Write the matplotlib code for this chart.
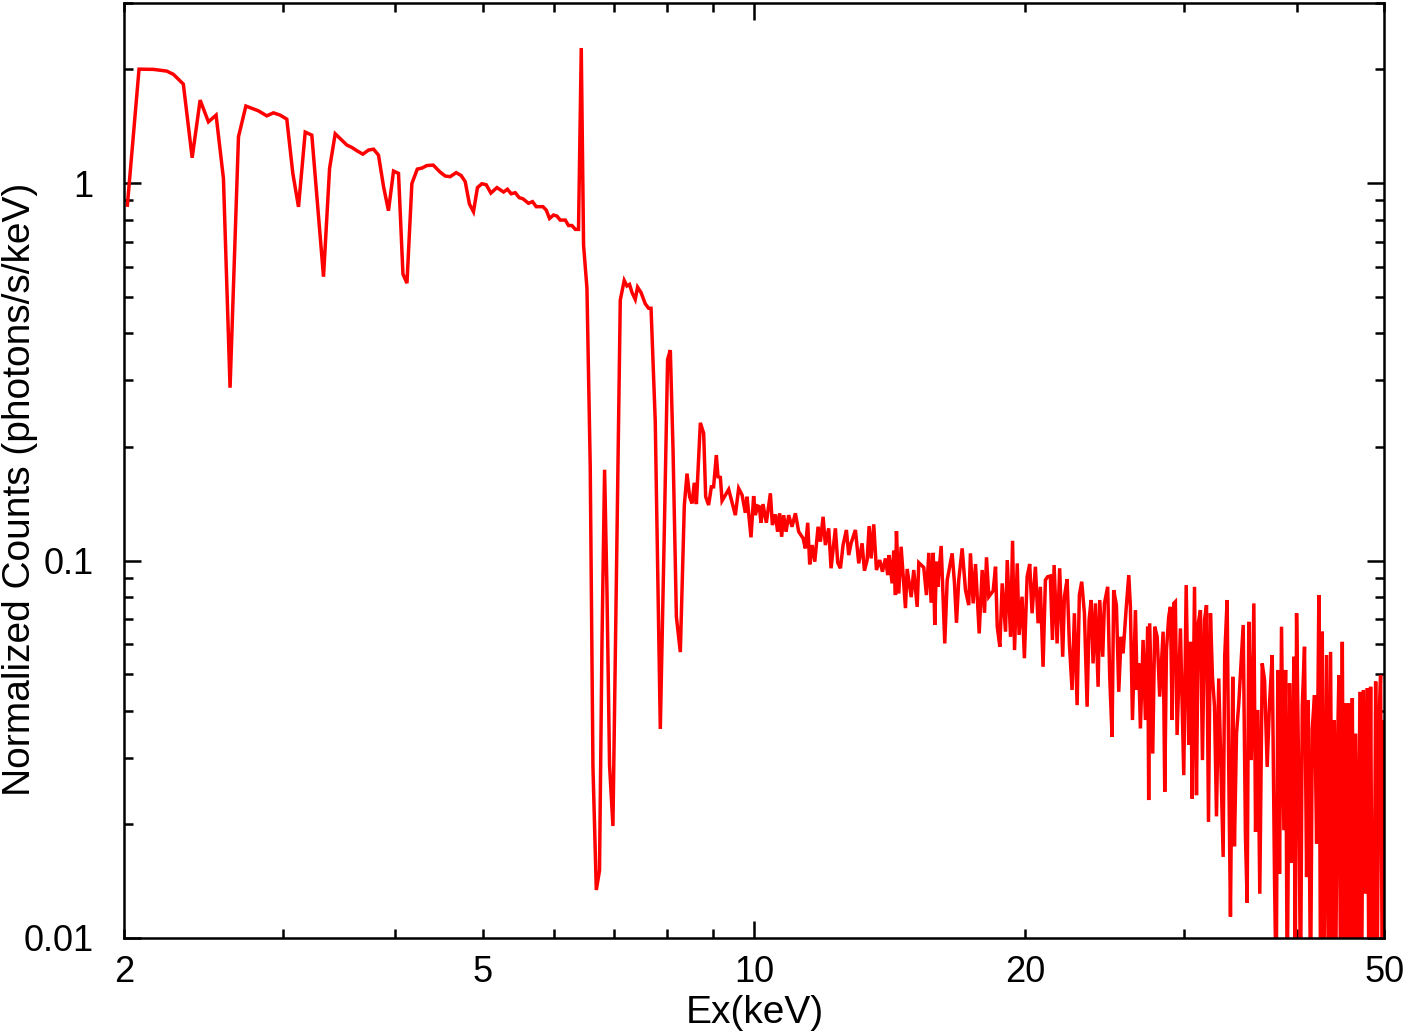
import numpy as np
import matplotlib
matplotlib.use('Agg')
import matplotlib.pyplot as plt
from matplotlib.ticker import FixedLocator, FuncFormatter, LogLocator, NullFormatter

# Spectrum: energy (keV) and normalized counts
energy_soft = [2.017, 2.078, 2.156, 2.231, 2.269, 2.327, 2.380, 2.429, 2.481, 2.530,
               2.578, 2.622, 2.679, 2.730, 2.819, 2.880, 2.929, 2.980, 3.031, 3.078,
               3.123, 3.177, 3.231, 3.329, 3.381, 3.430, 3.534, 3.579, 3.626, 3.681,
               3.734, 3.783, 3.831, 3.881, 3.930, 3.981, 4.032, 4.078, 4.120, 4.172,
               4.230, 4.281, 4.335, 4.406, 4.485, 4.543, 4.601, 4.672, 4.732, 4.781,
               4.833, 4.883, 4.933, 4.989, 5.045, 5.105, 5.185, 5.273, 5.326, 5.377,
               5.433, 5.488, 5.540, 5.620, 5.678, 5.732, 5.831, 5.881, 5.930, 5.991,
               6.043, 6.094, 6.174, 6.225, 6.280, 6.334, 6.386, 6.431, 6.469, 6.525,
               6.580, 6.626, 6.683, 6.738, 6.780, 6.826, 6.867, 6.913, 6.973, 7.032,
               7.105, 7.177, 7.227, 7.275, 7.321, 7.382, 7.426, 7.492, 7.573, 7.638,
               7.686, 7.769, 7.870, 7.950, 8.018, 8.074, 8.130, 8.200, 8.283, 8.368, 8.426]
counts_soft = [0.874, 2.004, 2.001, 1.980, 1.941, 1.829, 1.167, 1.659, 1.453, 1.514,
               1.029, 0.287, 1.326, 1.600, 1.554, 1.507, 1.535, 1.514, 1.477, 1.061,
               0.865, 1.365, 1.340, 0.565, 1.094, 1.351, 1.261, 1.243, 1.218, 1.193,
               1.223, 1.230, 1.186, 0.978, 0.845, 1.076, 1.061, 0.574, 0.543, 0.997,
               1.089, 1.096, 1.113, 1.116, 1.069, 1.044, 1.040, 1.066, 1.047, 1.009,
               0.880, 0.840, 0.973, 0.996, 0.990, 0.941, 0.973, 0.947, 0.963, 0.937,
               0.943, 0.915, 0.909, 0.884, 0.893, 0.866, 0.866, 0.848, 0.806, 0.823,
               0.818, 0.798, 0.798, 0.772, 0.772, 0.754, 0.754, 2.280, 0.685, 0.527,
               0.178, 0.0284, 0.0134, 0.0151, 0.0599, 0.174, 0.0842, 0.0287, 0.0198, 0.0842,
               0.490, 0.552, 0.534, 0.539, 0.513, 0.492, 0.530, 0.513, 0.479, 0.466,
               0.466, 0.234, 0.0358, 0.118, 0.341, 0.361, 0.197, 0.0710, 0.0572, 0.140, 0.170]

energy_mid = [8.482, 8.535, 8.584, 8.630, 8.718, 8.792, 8.837, 8.904, 8.966, 9.018,
              9.081, 9.120, 9.175, 9.215, 9.372, 9.533, 9.614, 9.699, 9.779, 9.822,
              9.922, 9.989, 10.033, 10.091, 10.135, 10.179, 10.231, 10.318, 10.426, 10.479,
              10.559, 10.620, 10.676, 10.730, 10.785, 10.852, 10.925, 11.018, 11.113, 11.208,
              11.335, 11.400, 11.469, 11.527, 11.599, 11.677, 11.777, 11.847, 11.929, 11.998,
              12.101, 12.174, 12.309, 12.383, 12.469, 12.553, 12.660, 12.736, 12.813, 12.955,
              13.066, 13.178, 13.257, 13.349, 13.417, 13.485, 13.576, 13.670, 13.786, 13.882,
              13.988, 14.072, 14.121, 14.228, 14.288, 14.350, 14.387, 14.473, 14.560,
              14.722, 14.786, 14.940, 15.037, 15.169, 15.232, 15.426, 15.533, 15.627, 15.721,
              15.804, 15.866, 15.936, 15.991, 16.128, 16.277, 16.379, 16.587, 16.687, 16.772,
              16.869, 17.017, 17.162, 17.305, 17.381, 17.502, 17.607, 17.774, 17.910, 18.017,
              18.109, 18.214, 18.420, 18.531, 18.612, 18.737, 18.849, 19.011, 19.094, 19.257,
              19.355, 19.453, 19.588, 19.680, 19.830, 19.949]
counts_mid = [0.1476, 0.1417, 0.1607, 0.1411, 0.2317, 0.2173, 0.1476, 0.1403, 0.1568, 0.1568,
              0.1903, 0.1667, 0.1661, 0.1440, 0.1543, 0.1319, 0.1553, 0.1491, 0.1338, 0.1476,
              0.1152, 0.1482, 0.1319, 0.1395, 0.1389, 0.1259, 0.1411, 0.1259, 0.1507, 0.1242,
              0.1325, 0.1192, 0.1334, 0.1156, 0.1319, 0.1192, 0.1319, 0.1229, 0.1334, 0.1192,
              0.1145, 0.1077, 0.1259, 0.0977, 0.1099, 0.0993, 0.1229, 0.1122, 0.1306, 0.1099,
              0.1217, 0.0954, 0.1217, 0.0987, 0.0954, 0.1099, 0.1205, 0.1034, 0.1111, 0.1205,
              0.0983, 0.1111, 0.0940, 0.1003, 0.1234, 0.1013, 0.1247, 0.0944, 0.1003, 0.0934,
              0.1013, 0.0915, 0.1034, 0.0870, 0.1062, 0.0810, 0.1197, 0.0818, 0.1088,
              0.0748, 0.0950, 0.0800, 0.0944, 0.0754, 0.0987, 0.0959, 0.0810, 0.1048, 0.0773,
              0.1048, 0.0675, 0.0993, 0.0852, 0.1093, 0.0603, 0.0888, 0.1045, 0.0870, 0.0684,
              0.0888, 0.1077, 0.0835, 0.0762, 0.1045, 0.0770, 0.0979, 0.0641, 0.0944, 0.0727,
              0.1020, 0.0802, 0.0832, 0.0963, 0.0668, 0.0591, 0.0870, 0.0648, 0.1003, 0.0628,
              0.1128, 0.0579, 0.0983, 0.0635, 0.0802, 0.0551]

energy_hard = [20.088, 20.222, 20.344, 20.518,
               20.660, 20.780, 20.924, 21.049, 21.170, 21.318, 21.430, 21.523, 21.688, 21.830,
               22.000, 22.096, 22.249, 22.378, 22.533, 22.668, 22.825, 22.957, 23.095, 23.255,
               23.416, 23.535, 23.654, 23.775, 23.917, 24.083, 24.183, 24.368, 24.475, 24.679,
               24.808, 24.957, 25.061, 25.236, 25.387, 25.540, 25.670, 25.866, 26.045, 26.154,
               26.292, 26.493, 26.609, 26.713, 26.830, 27.016, 27.178, 27.335, 27.405, 27.475,
               27.690, 27.831, 28.005, 28.186, 28.434, 28.552, 28.677, 28.843, 28.969, 29.096,
               29.217, 29.339, 29.467, 29.719, 29.973, 30.160, 30.356, 30.490, 30.624, 30.808,
               30.964, 31.100, 31.280, 31.439, 31.606, 31.767, 31.928, 32.090, 32.253, 32.424,
               32.587, 32.775, 32.919, 33.147, 33.277, 33.485, 33.624, 33.771, 33.968, 34.117,
               34.298, 34.496, 34.712, 34.888, 35.090, 35.244, 35.391, 35.611, 35.850, 36.007,
               36.215, 36.398, 36.625, 36.845, 37.092, 37.315, 37.574, 37.800, 37.957, 38.115,
               38.282, 38.477, 38.708, 38.877, 39.039, 39.273, 39.472, 39.710, 39.847, 39.985,
               40.216, 40.393, 40.570, 40.805, 41.022, 41.193, 41.441, 41.622, 41.863, 42.085,
               42.328, 42.513, 42.699, 42.877, 43.174, 43.363, 43.615, 43.806, 43.988, 44.181,
               44.365, 44.550, 44.745, 44.941, 45.128, 45.326, 45.525, 45.703, 45.904, 46.105,
               46.297, 46.499, 46.768, 47.006, 47.212, 47.419, 47.703, 47.912, 48.100, 48.311,
               48.523, 48.724, 48.937, 49.140, 49.344, 49.560, 49.777, 49.984]
counts_hard = [0.0906, 0.0979, 0.0725, 0.0963,
               0.0682, 0.0852, 0.0523, 0.0888, 0.0906, 0.0910, 0.0616, 0.0973, 0.0603, 0.0954,
               0.0556, 0.0802, 0.0892, 0.0603, 0.0454, 0.0725, 0.0414, 0.0810, 0.0879, 0.0725,
               0.0410, 0.0696, 0.0786, 0.0534, 0.0770, 0.0463, 0.0786, 0.0556, 0.0770, 0.0852,
               0.0492, 0.0341, 0.0835, 0.0762, 0.0449, 0.0628, 0.0568, 0.0739, 0.0915, 0.0754,
               0.0378, 0.0739, 0.0454, 0.0534, 0.0359, 0.0616, 0.0378, 0.0668, 0.0232, 0.0682,
               0.0308, 0.0668, 0.0628, 0.0436, 0.0648, 0.0244, 0.0579, 0.0710, 0.0754, 0.0378,
               0.0770, 0.0778, 0.0345, 0.0661, 0.0270, 0.0861, 0.0325, 0.0609, 0.0234, 0.0852,
               0.0239, 0.0682, 0.0739, 0.0296, 0.0696, 0.0762, 0.0203, 0.0725, 0.0492, 0.0410,
               0.0210, 0.0487, 0.0318, 0.0164, 0.0556, 0.0786, 0.0279, 0.0114, 0.0492, 0.0175,
               0.0348, 0.0418, 0.0545, 0.0675, 0.0186, 0.0124, 0.0688, 0.0296, 0.0770, 0.0191,
               0.0402, 0.0131, 0.0534, 0.0482, 0.0284, 0.0418, 0.0562, 0.0140, 0.0070, 0.0513,
               0.0148, 0.0668, 0.0193, 0.0513, 0.0070, 0.0473, 0.0158, 0.0556, 0.0070, 0.0725,
               0.0257, 0.0070, 0.0410, 0.0591, 0.0145, 0.0427, 0.0070, 0.0359, 0.0440, 0.0178,
               0.0810, 0.0070, 0.0648, 0.0080, 0.0562, 0.0070, 0.0573, 0.0080, 0.0378, 0.0070,
               0.0296, 0.0497, 0.0070, 0.0609, 0.0080, 0.0418, 0.0070, 0.0418, 0.0080, 0.0432,
               0.0070, 0.0348, 0.0080, 0.0449, 0.0070, 0.0454, 0.0131, 0.0459, 0.0070, 0.0463,
               0.0080, 0.0070, 0.0478, 0.0080, 0.0370, 0.0497, 0.0070, 0.0374]

x_labels = {2: '2', 5: '5', 10: '10', 20: '20', 50: '50'}
y_labels = {0.01: '0.01', 0.1: '0.1', 1: '1'}

energy = np.concatenate([energy_soft, energy_mid, energy_hard])
counts = np.concatenate([counts_soft, counts_mid, counts_hard])

plt.rcParams['font.family'] = ['Liberation Sans', 'DejaVu Sans']

fig = plt.figure(figsize=(14.05, 10.36), dpi=100)
ax = fig.add_axes([0.0883, 0.0946, 0.8968, 0.9025])

ax.plot(energy, counts, color='#ff0000', lw=2.5, solid_joinstyle='miter')

ax.set_xscale('log')
ax.set_yscale('log')
ax.set_xlim(2, 50)
ax.set_ylim(0.01, 3.0)

# x axis: only 10 gets a long tick, 2/5/20/50 are labelled minor ticks
ax.xaxis.set_major_locator(FixedLocator([10]))
ax.xaxis.set_minor_locator(FixedLocator([2, 3, 4, 5, 6, 7, 8, 9, 20, 30, 40, 50]))
lab = lambda v, pos: x_labels.get(int(round(v)), '')
ax.xaxis.set_major_formatter(FuncFormatter(lab))
ax.xaxis.set_minor_formatter(FuncFormatter(lab))

ax.yaxis.set_major_locator(FixedLocator([0.01, 0.1, 1]))
ax.yaxis.set_minor_locator(LogLocator(base=10, subs=np.arange(2, 10)))
ax.yaxis.set_major_formatter(FuncFormatter(lambda v, pos: y_labels.get(round(v, 3), '')))
ax.yaxis.set_minor_formatter(NullFormatter())

ax.tick_params(which='both', direction='in', top=True, right=True, width=1.8,
               labelsize=26, colors='black')
ax.tick_params(which='major', length=12)
ax.tick_params(which='minor', length=6.5)
ax.tick_params(axis='x', which='both', pad=12)
ax.tick_params(axis='y', which='both', pad=22)

for s in ax.spines.values():
    s.set_linewidth(1.8)

fig.text(755 / 1405, 1 - 1013 / 1036, 'Ex(keV)', ha='center', va='center', fontsize=28)
fig.text(20 / 1405, 1 - 489 / 1036, 'Normalized Counts (photons/s/keV)', ha='center',
         va='center', rotation=90, fontsize=28)

fig.savefig('out.png', dpi=100)
